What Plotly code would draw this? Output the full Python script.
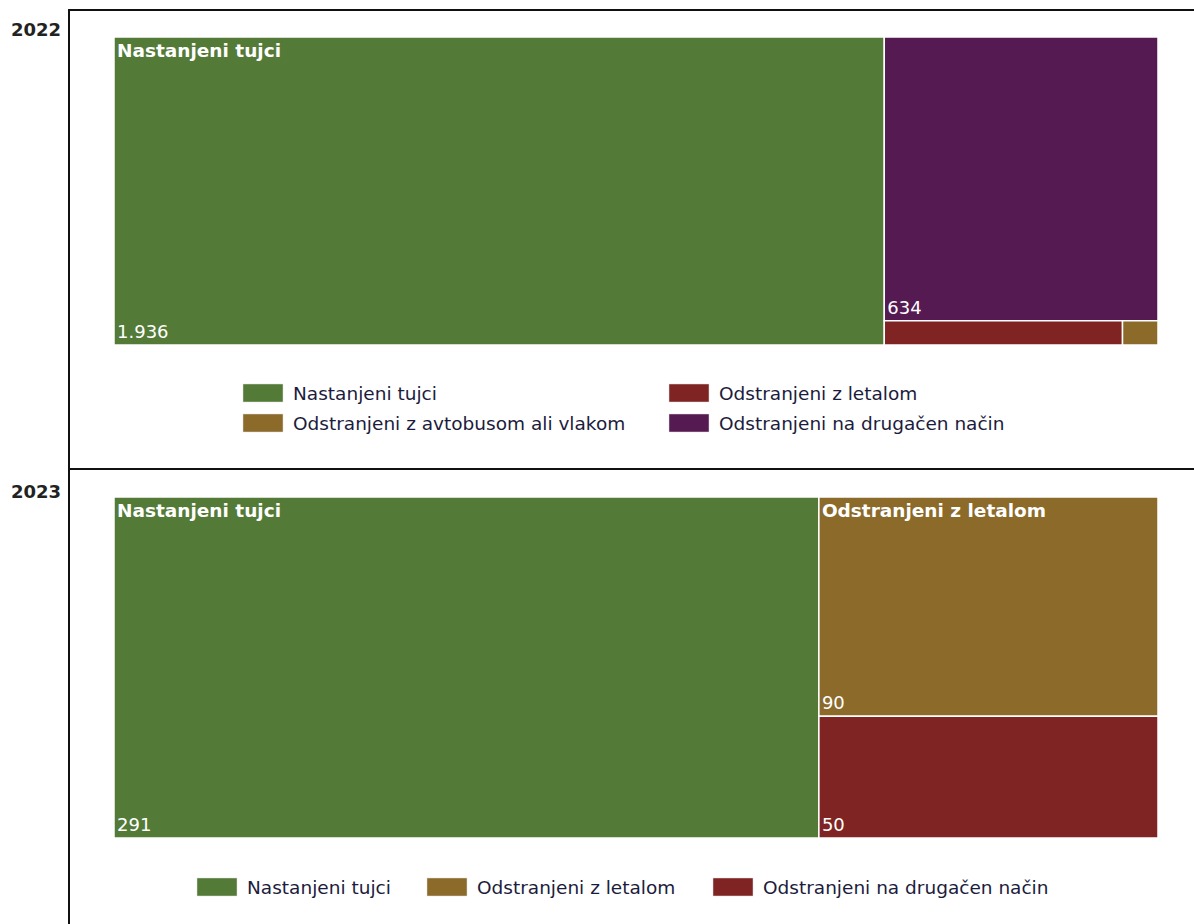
import plotly.graph_objects as go

W, H = 1194, 924

# ---- data -------------------------------------------------------------
years = ["2022", "2023"]

cat_2022 = ["Nastanjeni tujci", "Odstranjeni na drugačen način",
            "Odstranjeni z letalom", "Odstranjeni z avtobusom ali vlakom"]
val_2022 = [1936, 634, 47, 7]
col_2022 = ["#547A37", "#561A52", "#7F2423", "#8B6A2A"]
name_on_2022 = [True, False, False, False]
value_on_2022 = [True, True, False, False]
legend_2022 = ["Nastanjeni tujci", "Odstranjeni z letalom",
               "Odstranjeni z avtobusom ali vlakom", "Odstranjeni na drugačen način"]

cat_2023 = ["Nastanjeni tujci", "Odstranjeni z letalom", "Odstranjeni na drugačen način"]
val_2023 = [291, 90, 50]
col_2023 = ["#547A37", "#8B6A2A", "#7F2423"]
name_on_2023 = [True, True, False]
value_on_2023 = [True, True, True]
legend_2023 = ["Nastanjeni tujci", "Odstranjeni z letalom", "Odstranjeni na drugačen način"]

FONT = "DejaVu Sans"
TEXT_DARK = "#1c1c3c"


def px_x(x):
    return x / W


def px_y(y):
    return 1 - y / H


def treemap_pair(labels, values, colors, name_on, value_on, x0, y0, x1, y1):
    dom = dict(x=[px_x(x0), px_x(x1)], y=[px_y(y1), px_y(y0)])
    common = dict(labels=labels, parents=[""] * len(labels), values=values,
                  domain=dom, sort=True, hoverinfo="skip",
                  tiling=dict(pad=0, packing="squarify"),
                  pathbar=dict(visible=False))
    tiles = go.Treemap(
        **common,
        marker=dict(colors=colors, line=dict(color="white", width=1.5),
                    pad=dict(t=0, l=0, r=0, b=0)),
        texttemplate=["<b>%{label}</b>" if f else "" for f in name_on],
        textposition="top left",
        textfont=dict(family=FONT, size=18.5, color="white"),
    )
    values_layer = go.Treemap(
        **common,
        marker=dict(colors=["rgba(0,0,0,0)"] * len(labels),
                    line=dict(width=0), pad=dict(t=0, l=0, r=0, b=0)),
        texttemplate=["%{value:,}" if f else "" for f in value_on],
        textposition="bottom left",
        textfont=dict(family=FONT, size=18, color="white"),
    )
    return [tiles, values_layer]


fig = go.Figure()
for tr in treemap_pair(cat_2022, val_2022, col_2022, name_on_2022, value_on_2022,
                       114, 37, 1158, 345):
    fig.add_trace(tr)
for tr in treemap_pair(cat_2023, val_2023, col_2023, name_on_2023, value_on_2023,
                       114, 497, 1158, 838):
    fig.add_trace(tr)

shapes = []
annotations = []

# frame lines
line_style = dict(color="#111111", width=2)
shapes.append(dict(type="line", xref="paper", yref="paper",
                   x0=px_x(69), x1=1, y0=px_y(10), y1=px_y(10), line=line_style))
shapes.append(dict(type="line", xref="paper", yref="paper",
                   x0=px_x(69), x1=px_x(69), y0=px_y(9), y1=0, line=line_style))
shapes.append(dict(type="line", xref="paper", yref="paper",
                   x0=px_x(69), x1=1, y0=px_y(469), y1=px_y(469), line=line_style))

# year headings
for yr, yc in zip(years, [30, 492]):
    annotations.append(dict(text=f"<b>{yr}</b>", xref="paper", yref="paper",
                            x=px_x(9), y=px_y(yc), xanchor="left", yanchor="middle",
                            showarrow=False,
                            font=dict(family=FONT, size=18, color="#222222")))

color_of_2022 = dict(zip(cat_2022, col_2022))
color_of_2023 = dict(zip(cat_2023, col_2023))


def legend_item(label, color, sx, cy):
    shapes.append(dict(type="rect", xref="paper", yref="paper",
                       x0=px_x(sx), x1=px_x(sx + 40), y0=px_y(cy + 9), y1=px_y(cy - 9),
                       fillcolor=color, line=dict(color="#dddddd", width=0.5)))
    annotations.append(dict(text=label, xref="paper", yref="paper",
                            x=px_x(sx + 48), y=px_y(cy), xanchor="left", yanchor="middle",
                            showarrow=False,
                            font=dict(family=FONT, size=18.5, color=TEXT_DARK)))


# 2022 legend: two columns, two rows
pos_2022 = [(243, 393), (669, 393), (243, 423), (669, 423)]
for lab, (sx, cy) in zip(legend_2022, pos_2022):
    legend_item(lab, color_of_2022[lab], sx, cy)

# 2023 legend: single row
pos_2023 = [(197, 887), (427, 887), (713, 887)]
for lab, (sx, cy) in zip(legend_2023, pos_2023):
    legend_item(lab, color_of_2023[lab], sx, cy)

fig.update_layout(
    width=W, height=H,
    margin=dict(l=0, r=0, t=0, b=0),
    paper_bgcolor="white",
    plot_bgcolor="white",
    separators=",.",
    showlegend=False,
    shapes=shapes,
    annotations=annotations,
)

fig.write_html("out.html")
